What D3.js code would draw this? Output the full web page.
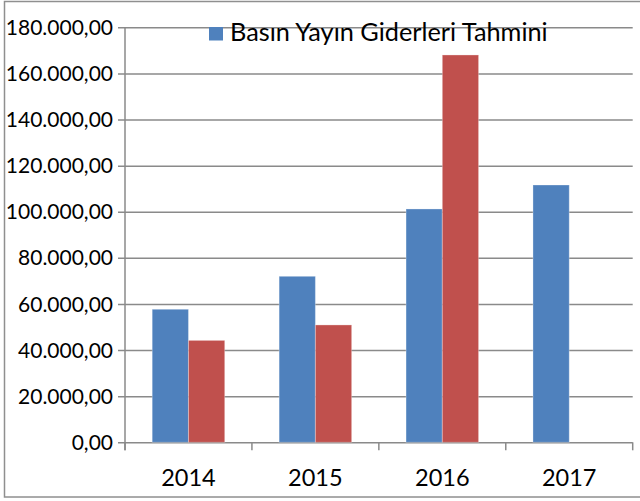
<!DOCTYPE html>
<html>
<head>
<meta charset="utf-8">
<script src="https://cdn.jsdelivr.net/npm/d3@7"></script>
<style>
    html, body { margin: 0; padding: 0; background: #fff; }
    .d3-graph text { font-family: Lato, "DejaVu Sans", sans-serif; fill: #000; }
</style>
</head>
<body>
<div class="d3-graph d3-bar-yearly"></div>
<script>
var years = ['2014', '2015', '2016', '2017'];
var seriesNames = ['Basın Yayın Giderleri Tahmini', 'Gerçekleşen'];
var estimateValues = [57700, 72000, 101200, 111600];
var actualValues = [44200, 50900, 168000, null];
var yTicks = [0, 20000, 40000, 60000, 80000, 100000, 120000, 140000, 160000, 180000];

(function () {
    "use strict";

    var config = {
        selector: '.d3-graph.d3-bar-yearly',
        width: 640,
        height: 501,
        margin: {
            top: 27.3,
            right: 7.3,
            bottom: 58.7,
            left: 125
        },
        colors: ['#4f81bd', '#c0504d'],
        grid: '#8a8a8a'
    };

    // Turkish number format, e.g. 180.000,00
    var trLocale = d3.formatLocale({
        decimal: ',',
        thousands: '.',
        grouping: [3],
        currency: ['', ' TL']
    });
    var fmt = trLocale.format(',.2f');

    function drawBarGraph() {
        var margin = config.margin;
        var width = config.width - margin.left - margin.right;
        var height = config.height - margin.top - margin.bottom;

        var svg = d3.select(config.selector).html('')
            .append('svg')
            .attr('width', config.width)
            .attr('height', config.height);

        // outer chart frame
        svg.append('rect')
            .attr('x', 4.5)
            .attr('y', 1.5)
            .attr('width', 700)
            .attr('height', 495.5)
            .attr('fill', 'none')
            .attr('stroke', '#8f8f8f')
            .attr('stroke-width', 1.5);

        var g = svg.append('g')
            .attr('transform', 'translate(' + margin.left + ',' + margin.top + ')');

        var x = d3.scaleBand()
            .domain(years)
            .range([0, width]);

        var barW = x.bandwidth() / 3.5; // gap width 150%
        var x1 = d3.scaleBand()
            .domain([0, 1])
            .range([barW * 0.75, barW * 2.75]);

        var y = d3.scaleLinear()
            .domain([0, 180000])
            .range([height, 0]);

        // horizontal gridlines + y ticks
        var yAxis = g.append('g')
            .call(d3.axisLeft(y)
                .tickValues(yTicks)
                .tickSize(-width)
                .tickPadding(12)
                .tickFormat(fmt));
        yAxis.select('.domain').remove();
        yAxis.selectAll('line')
            .attr('x1', -7)
            .attr('stroke', config.grid)
            .attr('stroke-width', 1.5);
        yAxis.selectAll('text')
            .attr('x', -12)
            .style('font-size', '21px')
            .attr('dy', '0.34em');

        // y axis line
        g.append('line')
            .attr('x1', 0).attr('x2', 0)
            .attr('y1', 0).attr('y2', height + 8)
            .attr('stroke', config.grid)
            .attr('stroke-width', 1.5);

        // category ticks below the axis
        var bounds = years.map(function (d) { return x(d); }).concat([width]);
        g.selectAll('.cat-tick')
            .data(bounds)
            .enter()
            .append('line')
            .attr('class', 'cat-tick')
            .attr('x1', function (d) { return d; })
            .attr('x2', function (d) { return d; })
            .attr('y1', height)
            .attr('y2', height + 8)
            .attr('stroke', config.grid)
            .attr('stroke-width', 1.5);

        g.selectAll('.cat-label')
            .data(years)
            .enter()
            .append('text')
            .attr('class', 'cat-label')
            .attr('x', function (d) { return x(d) + x.bandwidth() / 2; })
            .attr('y', height + 44)
            .attr('text-anchor', 'middle')
            .style('font-size', '23.5px')
            .text(function (d) { return d; });

        // bars
        var rows = years.map(function (d, i) {
            return { year: d, values: [estimateValues[i], actualValues[i]] };
        });

        var groups = g.selectAll('.year')
            .data(rows)
            .enter()
            .append('g')
            .attr('class', 'year')
            .attr('transform', function (d) { return 'translate(' + x(d.year) + ',0)'; });

        groups.selectAll('rect')
            .data(function (d) {
                return d.values.map(function (v, k) { return { k: k, v: v }; })
                    .filter(function (e) { return e.v != null; });
            })
            .enter()
            .append('rect')
            .attr('x', function (d) { return x1(d.k); })
            .attr('y', function (d) { return y(d.v); })
            .attr('width', x1.bandwidth())
            .attr('height', function (d) { return height - y(d.v); })
            .attr('fill', function (d) { return config.colors[d.k]; })
            .attr('stroke', 'rgba(255,255,255,0.3)')
            .attr('stroke-width', 1);

        // legend (only first series shown)
        var legend = svg.append('g')
            .attr('transform', 'translate(209,27)');
        legend.append('rect')
            .attr('width', 14)
            .attr('height', 13.5)
            .attr('fill', config.colors[0]);
        legend.append('text')
            .attr('x', 21)
            .attr('y', 14)
            .style('font-size', '25.3px')
            .text(seriesNames[0]);
    }

    drawBarGraph();
})();
</script>
</body>
</html>
